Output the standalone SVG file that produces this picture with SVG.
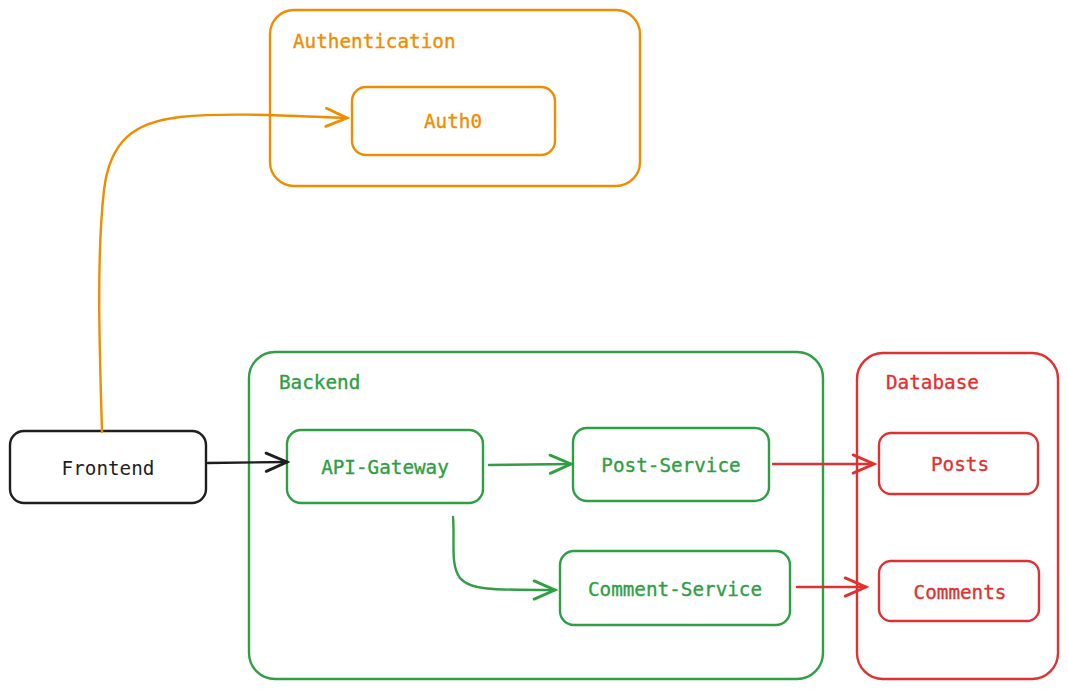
<svg xmlns="http://www.w3.org/2000/svg" width="1068" height="689" viewBox="0 0 1068 689">
<style>
text{font-family:"DejaVu Sans Mono","Liberation Mono",monospace;font-size:19.3px;stroke-width:0.35px}
.box{fill:none;stroke-width:2.4;stroke-linejoin:round}
.o{stroke:#f08c00}.g{stroke:#2f9e44}.r{stroke:#e03131}.k{stroke:#1e1e1e}
.to{fill:#f08c00;stroke:#f08c00}.tg{fill:#2f9e44;stroke:#2f9e44}.tr{fill:#e03131;stroke:#e03131}.tk{fill:#1e1e1e;stroke:none}
.c{text-anchor:middle;dominant-baseline:central}
.e{fill:none;stroke-width:2.4;stroke-linecap:round}
</style>
<defs>
<marker id="ao" viewBox="0 0 20 20" refX="18" refY="10" markerWidth="26" markerHeight="26" markerUnits="userSpaceOnUse" orient="auto"><polyline points="2,3 18,10 2,17" fill="none" stroke="#f08c00" stroke-width="2.2" stroke-linecap="round"/></marker>
<marker id="ag" viewBox="0 0 20 20" refX="18" refY="10" markerWidth="26" markerHeight="26" markerUnits="userSpaceOnUse" orient="auto"><polyline points="2,3 18,10 2,17" fill="none" stroke="#2f9e44" stroke-width="2.2" stroke-linecap="round"/></marker>
<marker id="ar" viewBox="0 0 20 20" refX="18" refY="10" markerWidth="26" markerHeight="26" markerUnits="userSpaceOnUse" orient="auto"><polyline points="2,3 18,10 2,17" fill="none" stroke="#e03131" stroke-width="2.2" stroke-linecap="round"/></marker>
<marker id="ak" viewBox="0 0 20 20" refX="18" refY="10" markerWidth="26" markerHeight="26" markerUnits="userSpaceOnUse" orient="auto"><polyline points="2,3 18,10 2,17" fill="none" stroke="#1e1e1e" stroke-width="2.2" stroke-linecap="round"/></marker>
</defs>

<g id="authentication">
<rect class="box o" x="270" y="10" width="370" height="176" rx="24"/>
<text class="to" x="293" y="48">Authentication</text>
</g>
<g id="auth0">
<rect class="box o" x="352" y="87" width="203" height="68" rx="14"/>
<text class="to c" x="453" y="121">Auth0</text>
</g>

<g id="backend">
<rect class="box g" x="249" y="352" width="574" height="327" rx="26"/>
<text class="tg" x="279" y="389">Backend</text>
</g>
<g id="database">
<rect class="box r" x="857" y="353" width="201" height="326" rx="26"/>
<text class="tr" x="886" y="389">Database</text>
</g>

<g id="frontend">
<rect class="box k" x="10" y="431" width="196" height="72" rx="14"/>
<text class="tk c" x="108" y="468">Frontend</text>
</g>
<g id="api-gateway">
<rect class="box g" x="287" y="430" width="196" height="73" rx="14"/>
<text class="tg c" x="385" y="467">API-Gateway</text>
</g>
<g id="post-service">
<rect class="box g" x="573" y="428" width="196" height="73" rx="14"/>
<text class="tg c" x="671" y="465">Post-Service</text>
</g>
<g id="comment-service">
<rect class="box g" x="560" y="551" width="230" height="74" rx="14"/>
<text class="tg c" x="675" y="589">Comment-Service</text>
</g>
<g id="posts">
<rect class="box r" x="879" y="433" width="159" height="61" rx="12"/>
<text class="tr c" x="960" y="464">Posts</text>
</g>
<g id="comments">
<rect class="box r" x="879" y="561" width="160" height="60" rx="12"/>
<text class="tr c" x="960" y="592">Comments</text>
</g>

<g id="connectors">
<path class="e o" d="M102,432 C100,360 96,260 104,190 C110,140 135,122 180,117 C230,112 290,116 347,118" marker-end="url(#ao)"/>
<path class="e k" d="M208,463 L287,462" stroke-width="3" marker-end="url(#ak)"/>
<path class="e g" d="M489,465 L571,464" stroke-width="2.8" marker-end="url(#ag)"/>
<path class="e g" d="M453,517 C455,540 450,565 460,578 C470,590 490,590 555,590" marker-end="url(#ag)"/>
<path class="e r" d="M773,464 L874,464" marker-end="url(#ar)"/>
<path class="e r" d="M797,587 L866,587" stroke-width="2.8" marker-end="url(#ar)"/>
</g>
</svg>
